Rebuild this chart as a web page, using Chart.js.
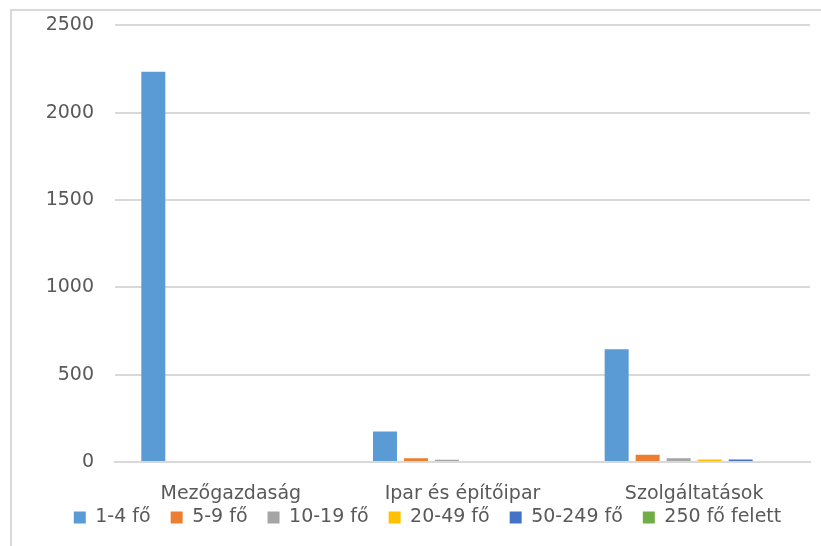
<!DOCTYPE html>
<html>
<head>
<meta charset="utf-8">
<script src="https://cdn.jsdelivr.net/npm/chart.js@4/dist/chart.umd.min.js"></script>
<style>
    html, body { margin: 0; padding: 0; background: #fff; overflow: hidden; }
    #wrap { position: relative; width: 821px; height: 546px; overflow: hidden; }
    #frame { position: absolute; left: 10px; top: 9px; width: 811px; height: 537px;
             border-top: 2px solid #d9d9d9; border-left: 2px solid #d9d9d9; box-sizing: border-box; }
    canvas { position: absolute; left: 0; top: -7px; }
</style>
</head>
<body>
<div id="wrap">
    <div id="frame"></div>
    <canvas id="sizeChart" width="821" height="570"></canvas>
</div>
<script>
const categories = ['Mezőgazdaság', 'Ipar és építőipar', 'Szolgáltatások'];
const seriesNames = ['1-4 fő', '5-9 fő', '10-19 fő', '20-49 fő', '50-249 fő', '250 fő felett'];
const seriesColors = ['#5b9bd5', '#ed7d31', '#a5a5a5', '#ffc000', '#4472c4', '#70ad47'];

// one array per size band: [Mezőgazdaság, Ipar és építőipar, Szolgáltatások]
const size1to4 = [2234, 174, 645];
const size5to9 = [0, 21, 42];
const size10to19 = [0, 13, 21];
const size20to49 = [0, 0, 15];
const size50to249 = [0, 0, 14];
const size250plus = [0, 0, 0];

const yTicks = [0, 500, 1000, 1500, 2000, 2500];

const seriesValues = [size1to4, size5to9, size10to19, size20to49, size50to249, size250plus];
const textColor = '#595959';
const fontFamily = '"DejaVu Sans", sans-serif';

// pull the legend up closer to the category labels
const legendShift = {
    id: 'legendShift',
    afterLayout(chart) {
        if (!chart.legend) return;
        chart.legend.top -= 19;
        chart.legend.bottom -= 19;
    }
};

new Chart(document.getElementById('sizeChart'), {
    type: 'bar',
    data: {
        labels: categories,
        datasets: seriesNames.map((name, i) => ({
            label: name,
            data: seriesValues[i],
            backgroundColor: seriesColors[i],
            borderWidth: 0,
            categoryPercentage: 0.803,
            barPercentage: 0.774
        }))
    },
    plugins: [legendShift],
    options: {
        responsive: false,
        animation: false,
        devicePixelRatio: 1,
        layout: { padding: { left: 45, right: 11, top: 17, bottom: 7 } },
        plugins: {
            tooltip: { enabled: false },
            legend: {
                position: 'bottom',
                labels: {
                    boxWidth: 12,
                    boxHeight: 12,
                    padding: 20,
                    color: textColor,
                    font: { family: fontFamily, size: 19 }
                }
            }
        },
        scales: {
            x: {
                afterFit: s => { s.height = 45; },
                grid: { display: false, drawTicks: false },
                border: { display: true, color: '#d9d9d9', width: 2 },
                ticks: { color: textColor, padding: 21, font: { family: fontFamily, size: 19 } }
            },
            y: {
                min: yTicks[0],
                max: yTicks[yTicks.length - 1],
                afterFit: s => { s.width = 70; },
                afterBuildTicks: s => { s.ticks = yTicks.map(v => ({ value: v })); },
                grid: { color: '#d9d9d9', lineWidth: 2, drawTicks: false },
                border: { display: false },
                ticks: {
                    color: textColor,
                    padding: 21,
                    font: { family: fontFamily, size: 19 },
                    callback: v => String(v)
                }
            }
        }
    }
});
</script>
</body>
</html>
